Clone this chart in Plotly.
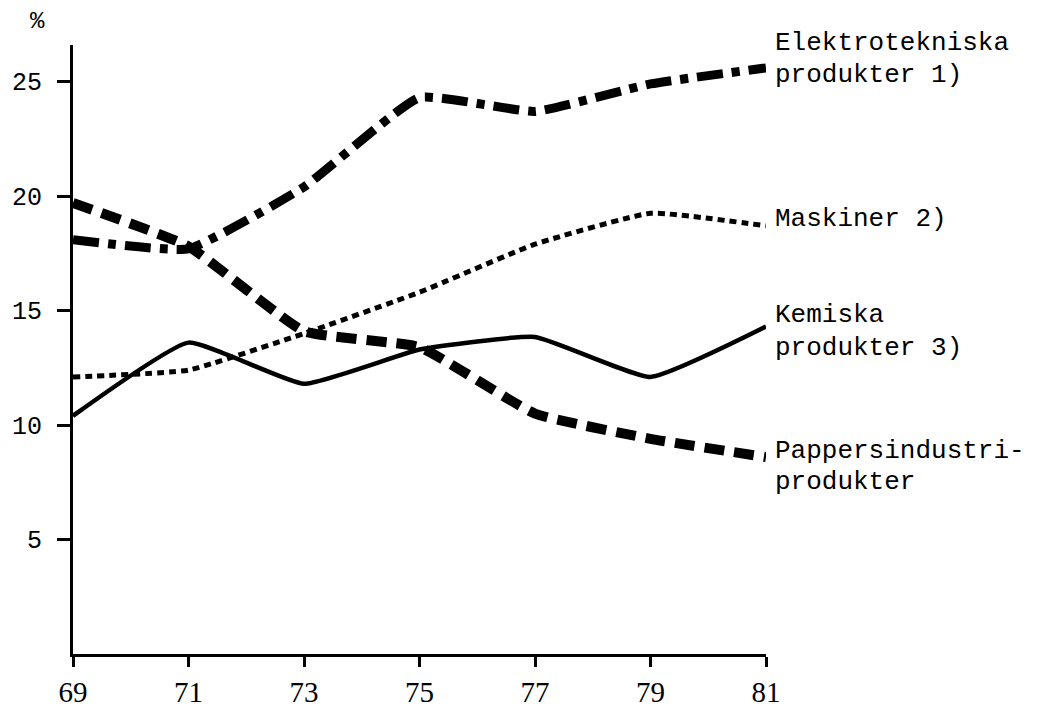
import plotly.graph_objects as go

years = [69, 71, 73, 75, 77, 79, 81]
elektro = [18.1, 17.7, 20.4, 24.3, 23.7, 24.9, 25.6]
maskiner = [12.1, 12.4, 14.0, 15.8, 17.9, 19.25, 18.7]
kemiska = [10.4, 13.6, 11.8, 13.3, 13.85, 12.1, 14.3]
papper = [19.7, 17.8, 14.1, 13.4, 10.5, 9.4, 8.6]

y_ticks = [5, 10, 15, 20, 25]
x_ticks = years
x_tick_labels = [str(v) for v in years]

label_lines = ["Elektrotekniska", "produkter 1)", "Maskiner 2)", "Kemiska",
               "produkter 3)", "Pappersindustri-", "produkter"]
label_ypx = [43, 75, 219, 315, 348, 451, 482]

MONO = "Liberation Mono, Courier New, monospace"
SERIF = "Liberation Serif, Times New Roman, serif"

fig = go.Figure()

series = [
    (papper, dict(color="black", width=10, dash="20px,10px")),
    (elektro, dict(color="black", width=9, dash="26px,9px,8px,9px")),
    (maskiner, dict(color="black", width=5, dash="7px,5px")),
    (kemiska, dict(color="black", width=4.5, dash="solid")),
]
for ys, ln in series:
    fig.add_trace(go.Scatter(x=years, y=ys, mode="lines",
                             line=dict(shape="spline", smoothing=0.4, **ln),
                             showlegend=False, hoverinfo="skip"))

W, H = 1039, 707
L, R, T, B = 73, 273, 45, 53
plot_h = H - T - B
plot_w = W - L - R

annotations = []
for txt, py in zip(label_lines, label_ypx):
    annotations.append(dict(
        text=txt, xref="paper", yref="paper",
        x=(773 - L) / plot_w, y=(H - B - py) / plot_h,
        xanchor="left", yanchor="middle", showarrow=False,
        font=dict(family=MONO, size=26, color="black")))
annotations.append(dict(
    text="%", xref="paper", yref="paper",
    x=(37 - L) / plot_w, y=(H - B - 22) / plot_h,
    xanchor="center", yanchor="middle", showarrow=False,
    font=dict(family=MONO, size=24, color="black")))

fig.update_layout(
    width=W, height=H,
    margin=dict(l=L, r=R, t=T, b=B, pad=0, autoexpand=False),
    paper_bgcolor="white", plot_bgcolor="white",
    annotations=annotations,
    xaxis=dict(range=[69, 81], tickvals=x_ticks, ticktext=x_tick_labels,
               automargin=False,
               showgrid=False, zeroline=False, showline=True, linewidth=3,
               linecolor="black", ticks="outside", ticklen=10, tickwidth=2.5,
               tickcolor="black", ticklabelstandoff=0,
               tickfont=dict(family=SERIF, size=29, color="black")),
    yaxis=dict(range=[0, 26.6], tickvals=y_ticks, automargin=False,
               showgrid=False, zeroline=False, showline=True, linewidth=3,
               linecolor="black", ticks="outside", ticklen=13, tickwidth=2.5,
               tickcolor="black", ticklabelstandoff=10,
               tickfont=dict(family=MONO, size=25, color="black")),
)

fig.write_html("out.html", config={"displayModeBar": False},
               post_script="document.body.style.margin='0';document.body.style.overflow='hidden';")
